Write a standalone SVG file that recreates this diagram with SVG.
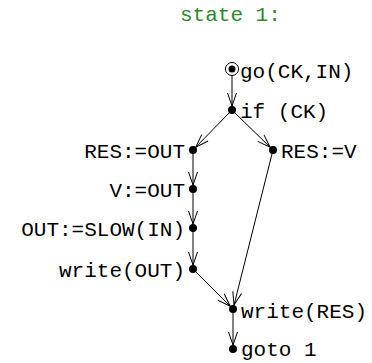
<svg xmlns="http://www.w3.org/2000/svg" width="372" height="363" viewBox="0 0 372 363">
<defs>
<style>
text{font-family:"Liberation Mono","DejaVu Sans Mono",monospace;font-size:21px;fill:#000}
.title{fill:#2a8a2a}
.l{text-anchor:end}
.e{stroke:#000;stroke-width:1;fill:none;marker-end:url(#ah)}
.d{fill:#000}
</style>
<marker id="ah" markerUnits="userSpaceOnUse" markerWidth="16" markerHeight="12" viewBox="-13 -6 14 12" refX="0" refY="0" orient="auto">
<path d="M-13,-4.5 L0,0 L-13,4.5" fill="none" stroke="#000" stroke-width="1"/>
</marker>
</defs>
<rect width="372" height="363" fill="#fff"/>
<text class="title" x="180" y="21">state 1:</text>
<g id="connectors">
<line class="e" x1="232" y1="75" x2="232" y2="106"/>
<line class="e" x1="232" y1="110" x2="195.8" y2="147.1"/>
<line class="e" x1="232" y1="110" x2="270.1" y2="147.2"/>
<line class="e" x1="193" y1="150" x2="193" y2="185"/>
<line class="e" x1="193" y1="189" x2="193" y2="224"/>
<line class="e" x1="193" y1="228" x2="193" y2="265"/>
<line class="e" x1="193" y1="269" x2="230.2" y2="306.2"/>
<line class="e" x1="273" y1="150" x2="234" y2="305.1"/>
<line class="e" x1="233" y1="309" x2="233" y2="345"/>
</g>
<g id="n-go"><circle cx="232" cy="69" r="6.5" fill="none" stroke="#000"/><circle class="d" cx="232" cy="69" r="3.5"/><text x="240" y="78">go(CK,IN)</text></g>
<g id="n-if"><circle class="d" cx="232" cy="110" r="4"/><text x="240" y="118">if (CK)</text></g>
<g id="n-resout"><circle class="d" cx="193" cy="150" r="4"/><text class="l" x="185" y="158">RES:=OUT</text></g>
<g id="n-resv"><circle class="d" cx="273" cy="150" r="4"/><text x="281" y="158">RES:=V</text></g>
<g id="n-vout"><circle class="d" cx="193" cy="189" r="4"/><text class="l" x="185" y="197">V:=OUT</text></g>
<g id="n-slow"><circle class="d" cx="193" cy="228" r="4"/><text class="l" x="185" y="236">OUT:=SLOW(IN)</text></g>
<g id="n-wout"><circle class="d" cx="193" cy="269" r="4"/><text class="l" x="185" y="277">write(OUT)</text></g>
<g id="n-wres"><circle class="d" cx="233" cy="309" r="4"/><text x="241" y="318">write(RES)</text></g>
<g id="n-goto"><circle class="d" cx="233" cy="349" r="4"/><text x="241" y="356">goto 1</text></g>
</svg>
